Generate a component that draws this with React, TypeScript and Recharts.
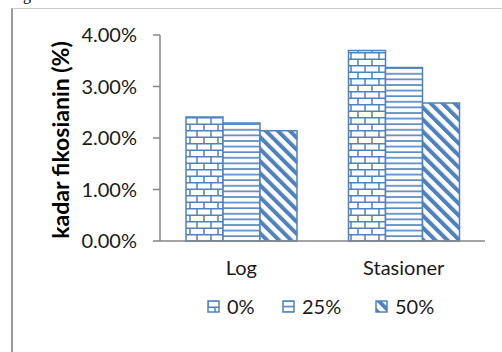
import React from "react";
import { BarChart, Bar, XAxis, YAxis, Legend } from "recharts";

// kadar fikosianin per fase pertumbuhan
const phases = ["Log", "Stasioner"];
const dose0 = [0.0241, 0.037];
const dose25 = [0.0229, 0.0337];
const dose50 = [0.0214, 0.0268];
const yTicks = [0, 0.01, 0.02, 0.03, 0.04];
const seriesNames = ["0%", "25%", "50%"];

const BLUE = "#4f81bd";
const FONT = "Lato, 'Liberation Sans', sans-serif";
const TEXT = "#1a1a1a";

const data = phases.map((name, i) => ({
  name,
  d0: dose0[i],
  d25: dose25[i],
  d50: dose50[i],
}));

const patternIds = ["brick", "hlines", "diag"];
// legend item slot widths (px)
const legendSlots = [75, 93, 80];

function Patterns() {
  return (
    <defs>
      <pattern id="brick" width="14" height="13" patternUnits="userSpaceOnUse">
        <rect width="14" height="13" fill="#fff" />
        <line x1="0" y1="0.75" x2="14" y2="0.75" stroke={BLUE} strokeWidth="1.5" />
        <line x1="0" y1="7.25" x2="14" y2="7.25" stroke={BLUE} strokeWidth="1.5" />
        <line x1="1" y1="0" x2="1" y2="7" stroke={BLUE} strokeWidth="1.5" />
        <line x1="8" y1="7" x2="8" y2="13" stroke={BLUE} strokeWidth="1.5" />
      </pattern>
      <pattern id="hlines" width="8" height="5.6" patternUnits="userSpaceOnUse">
        <rect width="8" height="5.6" fill="#fff" />
        <line x1="0" y1="1" x2="8" y2="1" stroke={BLUE} strokeWidth="1.6" />
      </pattern>
      <pattern
        id="diag"
        width="8.5"
        height="8.5"
        patternUnits="userSpaceOnUse"
        patternTransform="rotate(-45)"
      >
        <rect width="8.5" height="8.5" fill="#fff" />
        <rect x="0" y="0" width="4" height="8.5" fill={BLUE} />
      </pattern>
    </defs>
  );
}

function YTitle() {
  return (
    <text
      x={60}
      y={140}
      transform="rotate(-90 60 140)"
      textAnchor="middle"
      dominantBaseline="central"
      fontFamily={FONT}
      fontWeight="bold"
      fontSize={23}
      fill="#000"
    >
      kadar fikosianin (%)
    </text>
  );
}

function LegendBox() {
  return (
    <div
      style={{
        display: "flex",
        fontFamily: FONT,
        fontSize: 20,
        lineHeight: "22px",
        color: TEXT,
        paddingLeft: 207,
      }}
    >
      {seriesNames.map((n, i) => (
        <div
          key={n}
          style={{ display: "flex", alignItems: "center", width: legendSlots[i] }}
        >
          <svg width={13} height={13} style={{ marginRight: 7 }}>
            <rect
              x={1}
              y={1}
              width={11}
              height={11}
              fill={`url(#${patternIds[i]})`}
              stroke={BLUE}
              strokeWidth={1.5}
            />
          </svg>
          <span>{n}</span>
        </div>
      ))}
    </div>
  );
}

export default function App() {
  return (
    <div
      style={{
        position: "absolute",
        left: 0,
        top: 0,
        width: 502,
        height: 352,
        overflow: "hidden",
        background: "#fff",
      }}
    >
      <div
        style={{
          position: "absolute",
          left: 0,
          top: -14,
          fontFamily: "'Liberation Serif', serif",
          fontSize: 16,
          color: "#000",
          whiteSpace: "nowrap",
        }}
      >
        dengan kadar fikosianin.
      </div>
      <div
        style={{
          position: "absolute",
          left: 11,
          top: 8,
          width: 600,
          height: 400,
          borderLeft: "2px solid #9a9a9a",
          borderTop: "1px solid #c8c8c8",
        }}
      />
      <div style={{ position: "absolute", left: 0, top: 0 }}>
        <BarChart
          width={502}
          height={352}
          data={data}
          margin={{ top: 35, right: 17, bottom: 0, left: 0 }}
          barCategoryGap="16%"
          barGap={0}
        >
          <Patterns />
          <XAxis
            dataKey="name"
            axisLine={{ stroke: "#868686", strokeWidth: 1.5 }}
            tickLine={false}
            tickSize={0}
            tickMargin={20}
            height={111}
            tick={{ fontFamily: FONT, fontSize: 20, fill: TEXT }}
          />
          <YAxis
            width={160}
            domain={[0, 0.04]}
            ticks={yTicks}
            tickFormatter={(v: number) => `${(v * 100).toFixed(2)}%`}
            axisLine={{ stroke: "#868686", strokeWidth: 1.5 }}
            tickLine={{ stroke: "#868686", strokeWidth: 1.5 }}
            tickSize={7}
            tickMargin={16}
            tick={{ fontFamily: FONT, fontSize: 20, fill: TEXT }}
          />
          <YTitle />
          <Bar dataKey="d0" name="0%" fill="url(#brick)" stroke={BLUE} strokeWidth={1.5} isAnimationActive={false} />
          <Bar dataKey="d25" name="25%" fill="url(#hlines)" stroke={BLUE} strokeWidth={1.5} isAnimationActive={false} />
          <Bar dataKey="d50" name="50%" fill="url(#diag)" stroke={BLUE} strokeWidth={1.5} isAnimationActive={false} />
          <Legend
            verticalAlign="middle"
            content={() => <LegendBox />}
            wrapperStyle={{ top: 295, left: 0, width: 502, height: 22 }}
          />
        </BarChart>
      </div>
    </div>
  );
}
